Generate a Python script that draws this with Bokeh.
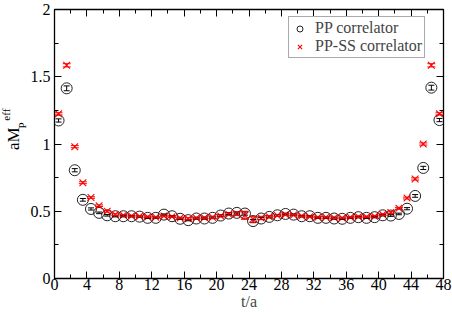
import numpy as np
from bokeh.plotting import figure
from bokeh.layouts import row
from bokeh.models import (ColumnDataSource, Whisker, TeeHead, LinearAxis,
                          FixedTicker, Legend, LegendItem, Range1d, CustomJSTickFormatter)
from bokeh.core.properties import value
from bokeh.embed import file_html
from bokeh.resources import INLINE

t = [i + 0.5 for i in range(48)]
pp = [1.175, 1.414, 0.805, 0.585, 0.517, 0.488, 0.470, 0.463, 0.463, 0.463,
      0.460, 0.451, 0.451, 0.475, 0.463, 0.444, 0.434, 0.446, 0.446, 0.451,
      0.468, 0.483, 0.488, 0.483, 0.427, 0.446, 0.458, 0.470, 0.480, 0.475,
      0.463, 0.463, 0.451, 0.451, 0.446, 0.444, 0.451, 0.456, 0.451, 0.456,
      0.470, 0.468, 0.480, 0.519, 0.614, 0.822, 1.419, 1.178]
pp_err = [0.012, 0.018, 0.012, 0.010, 0.008, 0.006, 0.006, 0.005, 0.005, 0.005,
          0.005, 0.005, 0.005, 0.005, 0.005, 0.005, 0.005, 0.005, 0.005, 0.006,
          0.006, 0.007, 0.008, 0.012, 0.012, 0.008, 0.007, 0.006, 0.006, 0.005,
          0.005, 0.005, 0.005, 0.005, 0.005, 0.005, 0.005, 0.005, 0.005, 0.005,
          0.005, 0.006, 0.006, 0.008, 0.010, 0.012, 0.018, 0.012]
ss = [1.224, 1.585, 0.980, 0.712, 0.602, 0.541, 0.500, 0.475, 0.470, 0.465,
      0.462, 0.458, 0.455, 0.465, 0.460, 0.450, 0.445, 0.450, 0.452, 0.455,
      0.465, 0.478, 0.482, 0.470, 0.440, 0.450, 0.460, 0.468, 0.475, 0.472,
      0.465, 0.460, 0.455, 0.455, 0.452, 0.450, 0.455, 0.460, 0.458, 0.462,
      0.475, 0.490, 0.522, 0.598, 0.740, 1.000, 1.585, 1.224]
ss_err = [0.008, 0.012, 0.008, 0.007, 0.006, 0.006, 0.006, 0.006, 0.006, 0.006,
          0.006, 0.006, 0.006, 0.006, 0.006, 0.006, 0.007, 0.007, 0.007, 0.008,
          0.008, 0.010, 0.014, 0.030, 0.022, 0.012, 0.008, 0.007, 0.007, 0.006,
          0.006, 0.006, 0.006, 0.006, 0.006, 0.006, 0.006, 0.006, 0.006, 0.006,
          0.006, 0.006, 0.007, 0.007, 0.008, 0.008, 0.012, 0.008]
x_ticks = list(range(0, 49, 4))
x_minor = list(range(0, 49, 2))
y_ticks = [0, 0.5, 1, 1.5, 2]
y_minor = [i * 0.25 for i in range(9)]
y_tick_labels = {0: "0", 0.5: "0.5", 1: "1", 1.5: "1.5", 2: "2"}

FONT = "Liberation Serif"
LEFT_W = 27

p = figure(width=452 - LEFT_W, height=312, output_backend="svg", toolbar_location=None,
           x_range=Range1d(0, 48), y_range=Range1d(0, 2),
           min_border_left=53 - LEFT_W, min_border_right=9, min_border_top=9,
           min_border_bottom=32)
p.background_fill_color = "white"
p.border_fill_color = "white"
p.outline_line_color = "black"
p.outline_line_width = 1.3
p.xgrid.visible = False
p.ygrid.visible = False

pp_src = ColumnDataSource(dict(t=t, y=pp,
                               lo=[a - b for a, b in zip(pp, pp_err)],
                               up=[a + b for a, b in zip(pp, pp_err)]))
ss_src = ColumnDataSource(dict(t=t, y=ss,
                               lo=[a - b for a, b in zip(ss, ss_err)],
                               up=[a + b for a, b in zip(ss, ss_err)]))

w1 = Whisker(base="t", lower="lo", upper="up", source=pp_src, line_color="black",
             line_width=1, level="glyph",
             upper_head=TeeHead(size=6, line_color="black", line_width=1),
             lower_head=TeeHead(size=6, line_color="black", line_width=1))
p.add_layout(w1)
r1 = p.scatter("t", "y", source=pp_src, marker="circle", size=11,
               fill_color=None, line_color="#222222", line_width=1)

w2 = Whisker(base="t", lower="lo", upper="up", source=ss_src, line_color="red",
             line_width=1, level="glyph",
             upper_head=TeeHead(size=8, line_color="red", line_width=1),
             lower_head=TeeHead(size=8, line_color="red", line_width=1))
p.add_layout(w2)
r2 = p.scatter("t", "y", source=ss_src, marker="x", size=9.5,
               line_color="red", line_width=1.1)

def style_axis(ax):
    ax.major_tick_in = 7
    ax.major_tick_out = 0
    ax.minor_tick_in = 4
    ax.minor_tick_out = 0
    ax.axis_line_color = "black"
    ax.major_tick_line_color = "black"
    ax.minor_tick_line_color = "black"
    ax.major_label_text_font = FONT
    ax.major_label_text_font_size = "16px"
    ax.major_label_text_color = "black"
    ax.major_label_standoff = 1

xa = p.xaxis[0]
xa.ticker = FixedTicker(ticks=x_ticks, minor_ticks=x_minor)
style_axis(xa)
xa.major_label_standoff = 0
xa.axis_label = "t/a"
xa.axis_label_text_font = FONT
xa.axis_label_text_font_style = "normal"
xa.axis_label_text_font_size = "16px"
xa.axis_label_standoff = 0

ya = p.yaxis[0]
ya.ticker = FixedTicker(ticks=y_ticks, minor_ticks=y_minor)
ya.major_label_overrides = y_tick_labels
style_axis(ya)
ya.major_label_standoff = 4

blank = CustomJSTickFormatter(code="return ''")
top = LinearAxis(ticker=FixedTicker(ticks=x_ticks, minor_ticks=x_minor), formatter=blank)
style_axis(top)
top.major_label_standoff = 0
p.add_layout(top, "above")
right = LinearAxis(ticker=FixedTicker(ticks=y_ticks, minor_ticks=y_minor), formatter=blank)
style_axis(right)
right.major_label_standoff = 0
p.add_layout(right, "right")

legend = Legend(items=[LegendItem(label="PP correlator", renderers=[r1]),
                       LegendItem(label="PP-SS correlator", renderers=[r2])],
                location=(234, 220))
legend.label_text_font = FONT
legend.label_text_font_size = "16px"
legend.label_height = 15
legend.glyph_height = 15
legend.glyph_width = 17
legend.spacing = 0
legend.padding = 2
legend.margin = 0
legend.label_standoff = 7
legend.border_line_color = "#555555"
legend.border_line_width = 1
legend.background_fill_alpha = 1
p.add_layout(legend)

# narrow strip on the left carrying the y-axis title aM_P^eff
H = 312
lab = figure(width=LEFT_W, height=H, output_backend="svg", toolbar_location=None,
             x_range=Range1d(0, LEFT_W), y_range=Range1d(0, H),
             min_border_left=0, min_border_right=0, min_border_top=0, min_border_bottom=0,
             x_axis_type=None, y_axis_type=None)
lab.outline_line_color = None
lab.xgrid.visible = False
lab.ygrid.visible = False
lab.text(x=[13], y=[H - 163], text=["aM"], angle=np.pi / 2,
         text_font=value(FONT), text_font_size="17px", text_color="black",
         text_align="left", text_baseline="middle")
lab.text(x=[21], y=[H - 138], text=["P"], angle=np.pi / 2,
         text_font=value(FONT), text_font_size="11px", text_color="black",
         text_align="left", text_baseline="middle")
lab.text(x=[5.5], y=[H - 129], text=["eff"], angle=np.pi / 2,
         text_font=value(FONT), text_font_size="11px", text_color="black",
         text_align="left", text_baseline="middle")

layout = row(lab, p, spacing=0)
open("out.html", "w").write(file_html(layout, INLINE))
